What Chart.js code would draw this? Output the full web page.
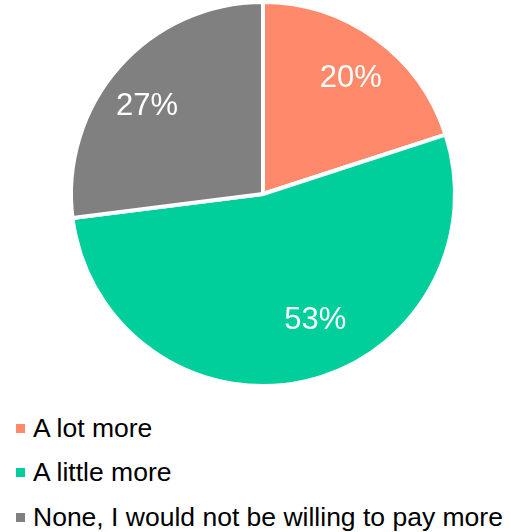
<!DOCTYPE html>
<html>
<head>
<meta charset="utf-8">
<script src="https://cdn.jsdelivr.net/npm/chart.js@4"></script>
<style>
  html, body { margin: 0; padding: 0; background: #fff; }
  #wrap { position: relative; width: 511px; height: 532px; font-family: "Liberation Sans", Arial, sans-serif; }
  #pie { position: absolute; left: 0; top: 0; }
  .item { position: absolute; left: 16px; height: 30px; font-size: 26.5px; color: #000; line-height: 30px; white-space: nowrap; }
  .box { display: inline-block; width: 9px; height: 9px; margin-right: 8px; vertical-align: 4px; }
</style>
</head>
<body>
<div id="wrap">
  <canvas id="pie" width="511" height="400"></canvas>
  <div id="legend"></div>
</div>
<script>
const categories = ['A lot more', 'A little more', 'None, I would not be willing to pay more'];
const shares = [20, 53, 27];
const colors = ['#FF896B', '#00CF9C', '#808080'];

// label placement tweaks: angle shift (deg) and fraction of radius
const labelPlace = [
    { shift: 1, r: 0.76 },
    { shift: -10, r: 0.71 },
    { shift: -4, r: 0.76 }
];

const pctLabels = {
    id: 'pctLabels',
    afterDatasetsDraw(chart) {
        const ctx = chart.ctx;
        const meta = chart.getDatasetMeta(0);
        ctx.save();
        ctx.fillStyle = '#fff';
        ctx.font = '31px "Liberation Sans", Arial, sans-serif';
        ctx.textAlign = 'center';
        ctx.textBaseline = 'middle';
        meta.data.forEach((arc, i) => {
            const p = arc.getProps(['x', 'y', 'startAngle', 'endAngle', 'outerRadius'], true);
            const a = (p.startAngle + p.endAngle) / 2 + labelPlace[i].shift * Math.PI / 180;
            const r = p.outerRadius * labelPlace[i].r;
            ctx.fillText(shares[i] + '%', p.x + Math.cos(a) * r, p.y + Math.sin(a) * r + 1);
        });
        ctx.restore();
    }
};

new Chart(document.getElementById('pie').getContext('2d'), {
    type: 'pie',
    data: {
        labels: categories,
        datasets: [{
            data: shares,
            backgroundColor: colors,
            borderColor: '#fff',
            borderWidth: 4
        }]
    },
    options: {
        responsive: false,
        animation: false,
        layout: { padding: { left: 69, right: 54, top: 0, bottom: 12 } },
        plugins: {
            legend: { display: false },
            tooltip: { enabled: false }
        }
    },
    plugins: [pctLabels]
});

// legend built from the same arrays
const legend = document.getElementById('legend');
const rowTops = [413, 457, 502];
categories.forEach((name, i) => {
    const div = document.createElement('div');
    div.className = 'item';
    div.style.top = rowTops[i] + 'px';
    const box = document.createElement('span');
    box.className = 'box';
    box.style.background = colors[i];
    div.appendChild(box);
    div.appendChild(document.createTextNode(name));
    legend.appendChild(div);
});
</script>
</body>
</html>
